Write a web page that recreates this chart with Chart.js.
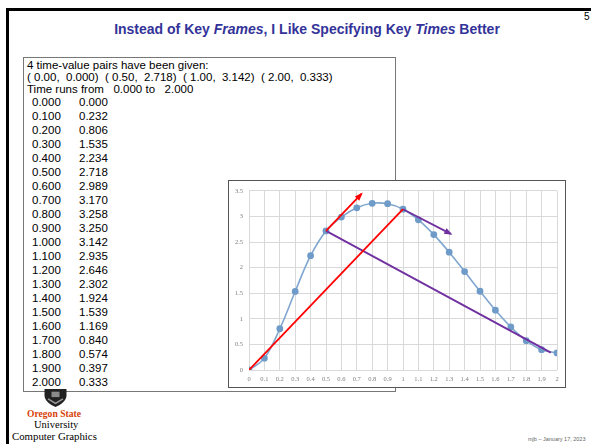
<!DOCTYPE html>
<html><head><meta charset="utf-8">
<script src="https://cdn.jsdelivr.net/npm/chart.js@4.4.1/dist/chart.umd.min.js"></script>
<style>
html,body{margin:0;padding:0;background:#fff;}
body{width:591px;height:444px;position:relative;overflow:hidden;font-family:"Liberation Sans",Arial,sans-serif;}
#topline{position:absolute;left:7px;top:8px;width:590px;height:3px;background:#000;}
#leftline{position:absolute;left:6px;top:8px;width:3px;height:440px;background:#000;}
#num{position:absolute;left:584px;top:11px;font-size:10px;color:#000;}
#title{position:absolute;left:0;width:614px;top:21px;text-align:center;font-weight:bold;font-size:14px;color:#333399;}
#tbox{position:absolute;left:23px;top:57px;width:373px;height:335px;border:1px solid #777;box-sizing:border-box;}
#tbox .l{position:absolute;font-size:11.5px;color:#000;white-space:pre;line-height:12px;}
#cbox{position:absolute;left:228px;top:180px;width:338px;height:208px;border:1px solid #555;box-sizing:border-box;background:#fff;}
#cv{position:absolute;left:0;top:0;}
#osu{position:absolute;left:27px;top:408px;font-family:"Liberation Serif",serif;font-weight:bold;font-size:9.6px;color:#d73f09;}
#univ{position:absolute;left:34px;top:419px;font-family:"Liberation Serif",serif;font-size:10.5px;color:#000;}
#cg{position:absolute;left:12px;top:430px;font-family:"Liberation Serif",serif;font-size:10.8px;color:#000;}
#foot{position:absolute;left:528px;top:436px;font-size:5.5px;color:#666;white-space:nowrap;}
#shield{position:absolute;left:44px;top:389px;}
</style></head>
<body>
<div id="topline"></div><div id="leftline"></div>
<div id="num">5</div>
<div id="title">Instead of Key <i>Frames</i>, I Like Specifying Key <i>Times</i> Better</div>
<div id="tbox"></div>
<div id="cbox"><canvas id="cv" width="336" height="206"></canvas></div>
<svg id="shield" width="23" height="18" viewBox="0 0 23 20" preserveAspectRatio="none"><path d="M0.5 0 H22.5 V7 C22.5 13 17 17.5 11.5 20 C6 17.5 0.5 13 0.5 7 Z" fill="#222"/><rect x="7.5" y="3" width="8" height="6" fill="#8a8a8a"/><path d="M4 11 L11.5 16 L19 11" stroke="#999" stroke-width="1.5" fill="none"/></svg>
<div id="osu">Oregon State</div>
<div id="univ">University</div>
<div id="cg">Computer Graphics</div>
<div id="foot">mjb – January 17, 2023</div>
<script>
// ---- data ----
const keyTimes  = [0.0, 0.5, 1.0, 2.0];
const keyValues = [0.000, 2.718, 3.142, 0.333];
const times  = [0.0,0.1,0.2,0.3,0.4,0.5,0.6,0.7,0.8,0.9,1.0,1.1,1.2,1.3,1.4,1.5,1.6,1.7,1.8,1.9,2.0];
const values = [0.000,0.232,0.806,1.535,2.234,2.718,2.989,3.170,3.258,3.250,3.142,2.935,2.646,2.302,1.924,1.539,1.169,0.840,0.574,0.397,0.333];
// tangent chords and arrows
const redChordX = [0.0, 1.0],   redChordY = [0.000, 3.142];
const redArrowX = [0.5, 0.73],  redArrowY = [2.718, 3.44];
const purChordX = [0.5, 1.96],  purChordY = [2.718, 0.34];
const purArrowX = [1.0, 1.31],  purArrowY = [3.142, 2.66];
const yTicks = [0,0.5,1,1.5,2,2.5,3,3.5];

// ---- text box ----
const tb = document.getElementById('tbox');
function fmt(v,d){ return v.toFixed(d); }
function addLine(txt, x, y){ const d=document.createElement('div'); d.className='l'; d.style.left=x+'px'; d.style.top=y+'px'; d.textContent=txt; tb.appendChild(d); }
addLine(keyTimes.length + ' time-value pairs have been given:', 3, 1);
addLine(keyTimes.map((t,i)=>'( '+fmt(t,2)+',  '+fmt(keyValues[i],3)+')').join('  '), 3, 13);
addLine('Time runs from   '+fmt(times[0],3)+' to   '+fmt(times[times.length-1],3), 3, 25);
times.forEach((t,i)=>{ addLine(fmt(t,3), 8, 38+i*14); addLine(fmt(values[i],3), 55, 38+i*14); });

// ---- chart ----
const arrowPlugin = {
  id:'arrows',
  afterDatasetsDraw(chart){
    const ctx = chart.ctx, xs = chart.scales.x, ys = chart.scales.y;
    chart.data.datasets.forEach(ds=>{
      if(!ds.arrow) return;
      const n = ds.data.length;
      const a = ds.data[n-2], b = ds.data[n-1];
      const x1=xs.getPixelForValue(a.x), y1=ys.getPixelForValue(a.y);
      const x2=xs.getPixelForValue(b.x), y2=ys.getPixelForValue(b.y);
      const ang=Math.atan2(y2-y1,x2-x1), L=7, W=0.45;
      ctx.save(); ctx.fillStyle=ds.borderColor; ctx.beginPath();
      ctx.moveTo(x2+2*Math.cos(ang),y2+2*Math.sin(ang));
      ctx.lineTo(x2-L*Math.cos(ang-W), y2-L*Math.sin(ang-W));
      ctx.lineTo(x2-L*Math.cos(ang+W), y2-L*Math.sin(ang+W));
      ctx.closePath(); ctx.fill(); ctx.restore();
    });
  }
};
function pts(xa,ya){ return xa.map((x,i)=>({x:x,y:ya[i]})); }
const RED='#ff0000', PUR='#7030a0';
new Chart(document.getElementById('cv'),{
  type:'line',
  data:{datasets:[
    {data:pts(times,values), borderColor:'#7fa6cf', borderWidth:1.6, tension:0.4, pointRadius:2.6, pointBackgroundColor:'#6f9bc8', pointBorderColor:'#6f9bc8', order:3},
    {data:pts(redChordX,redChordY), borderColor:RED, borderWidth:1.8, pointRadius:0, order:1},
    {data:pts(redArrowX,redArrowY), borderColor:RED, borderWidth:1.8, pointRadius:0, arrow:true, order:1},
    {data:pts(purChordX,purChordY), borderColor:PUR, borderWidth:1.8, pointRadius:0, order:1},
    {data:pts(purArrowX,purArrowY), borderColor:PUR, borderWidth:1.8, pointRadius:0, arrow:true, order:1}
  ]},
  options:{
    responsive:false, animation:false, events:[],
    layout:{padding:{top:9,right:8,left:0,bottom:0}},
    plugins:{legend:{display:false},tooltip:{enabled:false}},
    scales:{
      x:{type:'linear',min:0,max:2,
        afterBuildTicks(s){ s.ticks = times.map(v=>({value:v})); },
        afterFit(s){ s.height=17; },
        grid:{color:'#d9d9d9',lineWidth:1,drawTicks:false},
        border:{display:false},
        ticks:{padding:5,maxRotation:0,autoSkip:false,color:'#7f7f7f',font:{family:'Liberation Serif',size:6.5},
          callback:v=>String(Math.round(v*10)/10)}
      },
      y:{min:0,max:3.5,
        afterBuildTicks(s){ s.ticks = yTicks.map(v=>({value:v})); },
        afterFit(s){ s.width=20; },
        grid:{color:'#d9d9d9',lineWidth:1,drawTicks:false},
        border:{display:false},
        ticks:{padding:6,color:'#7f7f7f',font:{family:'Liberation Serif',size:6.5},callback:v=>String(v)}
      }
    }
  },
  plugins:[arrowPlugin]
});
</script>
</body></html>
